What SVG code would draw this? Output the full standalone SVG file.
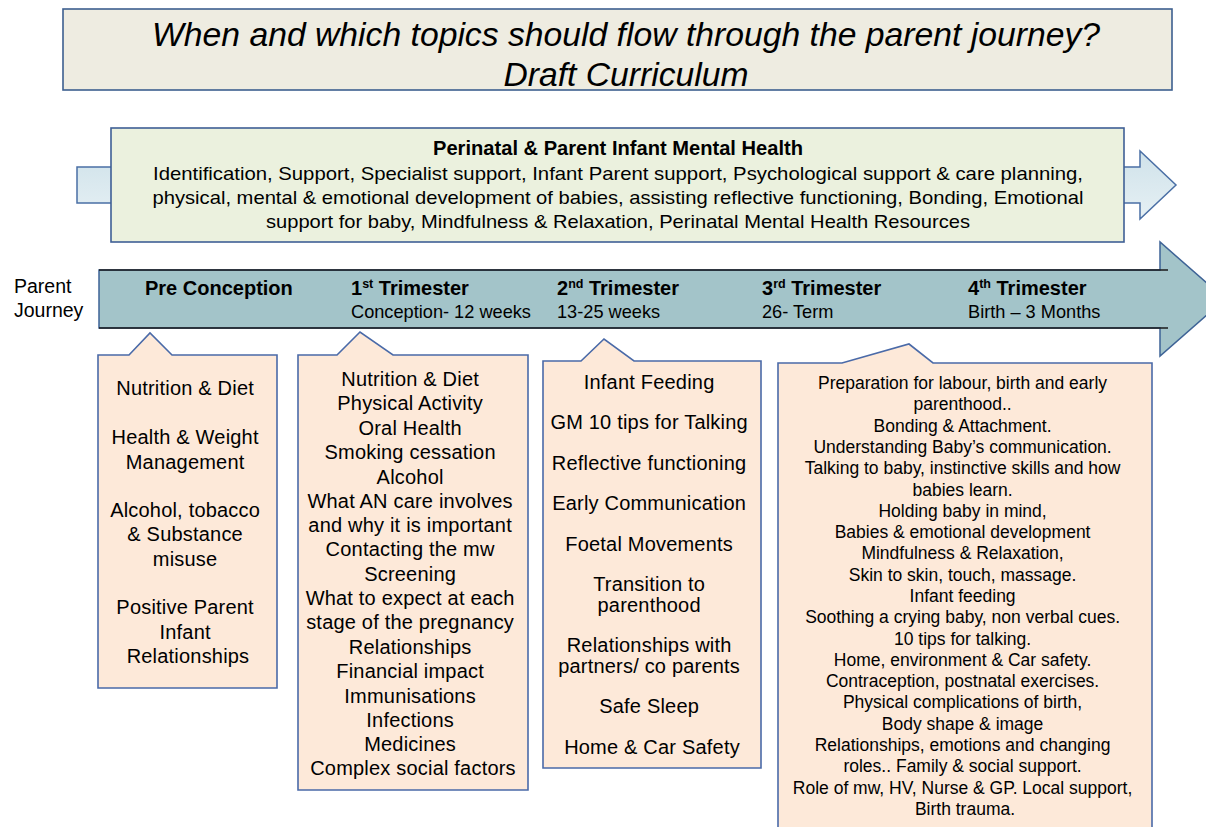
<svg xmlns="http://www.w3.org/2000/svg" width="1206" height="827" viewBox="0 0 1206 827">
  <defs>
    <linearGradient id="mhArrowFill" x1="0" y1="0" x2="0" y2="1">
      <stop offset="0" stop-color="#cfe2ea"/>
      <stop offset="1" stop-color="#e6f0f4"/>
    </linearGradient>
    <style>
      text { font-family: "Liberation Sans", Arial, sans-serif; fill: #000; }
      .title { font-size: 33px; font-style: italic; text-anchor: middle; }
      .mh { font-size: 18.5px; text-anchor: middle; }
      .mh-head { font-size: 19.5px; font-weight: bold; text-anchor: middle; }
      .side { font-size: 19.5px; }
      .stage { font-size: 20px; font-weight: bold; }
      .sub { font-size: 18.2px; }
      .box { fill: #fde9d9; stroke: #4a6aa8; stroke-width: 1.6; }
      .topic { font-size: 20px; text-anchor: middle; letter-spacing: 0.2px; }
      .topic-sm { font-size: 17.5px; text-anchor: middle; }
    </style>
  </defs>

  <rect width="1206" height="827" fill="#ffffff"/>

  <!-- Title banner -->
  <g id="title">
    <rect x="63" y="9" width="1109" height="81" fill="#eeece1" stroke="#3d5f8f" stroke-width="1.6"/>
    <text class="title" x="626" y="46" textLength="948" lengthAdjust="spacingAndGlyphs">When and which topics should flow through the parent journey?</text>
    <text class="title" x="626" y="86" textLength="245" lengthAdjust="spacingAndGlyphs">Draft Curriculum</text>
  </g>

  <!-- Perinatal mental health theme running across the journey -->
  <g id="mental-health">
    <path d="M77,167 H1140 V151 L1176,185 L1140,219 V203 H77 Z" fill="url(#mhArrowFill)" stroke="#4a6fa5" stroke-width="1.5"/>
    <rect x="111" y="128" width="1013" height="114" fill="#ebf1de" stroke="#3f5f95" stroke-width="1.6"/>
    <text class="mh-head" x="618" y="155" textLength="370" lengthAdjust="spacingAndGlyphs">Perinatal &amp; Parent Infant Mental Health</text>
    <text class="mh" x="618" y="180" textLength="930" lengthAdjust="spacingAndGlyphs">Identification, Support, Specialist support, Infant Parent support, Psychological support &amp; care planning,</text>
    <text class="mh" x="618" y="204" textLength="931" lengthAdjust="spacingAndGlyphs">physical, mental &amp; emotional development of babies, assisting reflective functioning, Bonding, Emotional</text>
    <text class="mh" x="618" y="228" textLength="704" lengthAdjust="spacingAndGlyphs">support for baby, Mindfulness &amp; Relaxation, Perinatal Mental Health Resources</text>
  </g>

  <!-- Parent journey timeline arrow -->
  <g id="journey">
    <text class="side" x="14" y="293">Parent</text>
    <text class="side" x="14" y="317">Journey</text>
    <path d="M99,270 H1160 V242 L1225,299 L1160,356 V328 H99 Z" fill="#a3c4c9" stroke="#3e6396" stroke-width="1.5"/>
    <line x1="99" y1="270" x2="1168" y2="270" stroke="#1a1a1a" stroke-width="1.5"/>
    <line x1="99" y1="328" x2="1168" y2="328" stroke="#1a1a1a" stroke-width="1.5"/>
    <text class="stage" x="145" y="295">Pre Conception</text>
    <text class="stage" x="351" y="295">1<tspan font-size="12.5" dy="-7">st</tspan><tspan dy="7"> Trimester</tspan></text>
    <text class="sub" x="351" y="318">Conception- 12 weeks</text>
    <text class="stage" x="557" y="295">2<tspan font-size="12.5" dy="-7">nd</tspan><tspan dy="7"> Trimester</tspan></text>
    <text class="sub" x="557" y="318">13-25 weeks</text>
    <text class="stage" x="762" y="295">3<tspan font-size="12.5" dy="-7">rd</tspan><tspan dy="7"> Trimester</tspan></text>
    <text class="sub" x="762" y="318">26- Term</text>
    <text class="stage" x="968" y="295">4<tspan font-size="12.5" dy="-7">th</tspan><tspan dy="7"> Trimester</tspan></text>
    <text class="sub" x="968" y="318">Birth – 3 Months</text>
  </g>

  <!-- Topic callouts, one per stage -->
  <g id="pre-conception">
    <path class="box" d="M98,355 H129 L150,333 L172,355 H277 V688 H98 Z"/>
    <text class="topic">
      <tspan x="188" y="395">Nutrition &amp; Diet</tspan>
      <tspan x="188" y="444">Health &amp; Weight</tspan>
      <tspan x="188" y="469">Management</tspan>
      <tspan x="188" y="517">Alcohol, tobacco</tspan>
      <tspan x="188" y="541">&amp; Substance</tspan>
      <tspan x="188" y="566">misuse</tspan>
      <tspan x="188" y="614">Positive Parent</tspan>
      <tspan x="188" y="639">Infant</tspan>
      <tspan x="188" y="663">Relationships</tspan>
    </text>
  </g>

  <g id="trimester-1">
    <path class="box" d="M298,355 H337 L360,332 L393,355 H528 V790 H298 Z"/>
    <text class="topic">
      <tspan x="413" y="386">Nutrition &amp; Diet</tspan>
      <tspan x="413" y="410">Physical Activity</tspan>
      <tspan x="413" y="435">Oral Health</tspan>
      <tspan x="413" y="459">Smoking cessation</tspan>
      <tspan x="413" y="484">Alcohol</tspan>
      <tspan x="413" y="508">What AN care involves</tspan>
      <tspan x="413" y="532">and why it is important</tspan>
      <tspan x="413" y="556">Contacting the mw</tspan>
      <tspan x="413" y="581">Screening</tspan>
      <tspan x="413" y="605">What to expect at each</tspan>
      <tspan x="413" y="629">stage of the pregnancy</tspan>
      <tspan x="413" y="654">Relationships</tspan>
      <tspan x="413" y="678">Financial impact</tspan>
      <tspan x="413" y="703">Immunisations</tspan>
      <tspan x="413" y="727">Infections</tspan>
      <tspan x="413" y="751">Medicines</tspan>
      <tspan x="413" y="775">Complex social factors</tspan>
    </text>
  </g>

  <g id="trimester-2">
    <path class="box" d="M543,361 H581 L604,339 L634,361 H761 V768 H543 Z"/>
    <text class="topic">
      <tspan x="652" y="389">Infant Feeding</tspan>
      <tspan x="652" y="429">GM 10 tips for Talking</tspan>
      <tspan x="652" y="470">Reflective functioning</tspan>
      <tspan x="652" y="510">Early Communication</tspan>
      <tspan x="652" y="551">Foetal Movements</tspan>
      <tspan x="652" y="591">Transition to</tspan>
      <tspan x="652" y="612">parenthood</tspan>
      <tspan x="652" y="652">Relationships with</tspan>
      <tspan x="652" y="673">partners/ co parents</tspan>
      <tspan x="652" y="713">Safe Sleep</tspan>
      <tspan x="652" y="754">Home &amp; Car Safety</tspan>
    </text>
  </g>

  <g id="trimester-4">
    <path class="box" d="M778,363 H842 L909,344 L933,363 H1152 V840 H778 Z"/>
    <text class="topic-sm">
      <tspan x="965" y="389">Preparation for labour, birth and early</tspan>
      <tspan x="965" y="410">parenthood..</tspan>
      <tspan x="965" y="432">Bonding &amp; Attachment.</tspan>
      <tspan x="965" y="453">Understanding  Baby’s communication.</tspan>
      <tspan x="965" y="474">Talking  to baby, instinctive skills and how</tspan>
      <tspan x="965" y="496">babies learn.</tspan>
      <tspan x="965" y="517">Holding  baby in mind,</tspan>
      <tspan x="965" y="538">Babies &amp; emotional development</tspan>
      <tspan x="965" y="559">Mindfulness  &amp; Relaxation,</tspan>
      <tspan x="965" y="581">Skin to skin, touch, massage.</tspan>
      <tspan x="965" y="602">Infant feeding</tspan>
      <tspan x="965" y="623">Soothing a crying baby, non verbal cues.</tspan>
      <tspan x="965" y="645">10  tips for talking.</tspan>
      <tspan x="965" y="666">Home,  environment &amp; Car safety.</tspan>
      <tspan x="965" y="687">Contraception, postnatal exercises.</tspan>
      <tspan x="965" y="708">Physical complications of birth,</tspan>
      <tspan x="965" y="730">Body shape &amp; image</tspan>
      <tspan x="965" y="751">Relationships, emotions and changing</tspan>
      <tspan x="965" y="772">roles.. Family &amp; social support.</tspan>
      <tspan x="965" y="794">Role of mw, HV, Nurse &amp; GP. Local support,</tspan>
      <tspan x="965" y="815">Birth trauma.</tspan>
    </text>
  </g>
</svg>
